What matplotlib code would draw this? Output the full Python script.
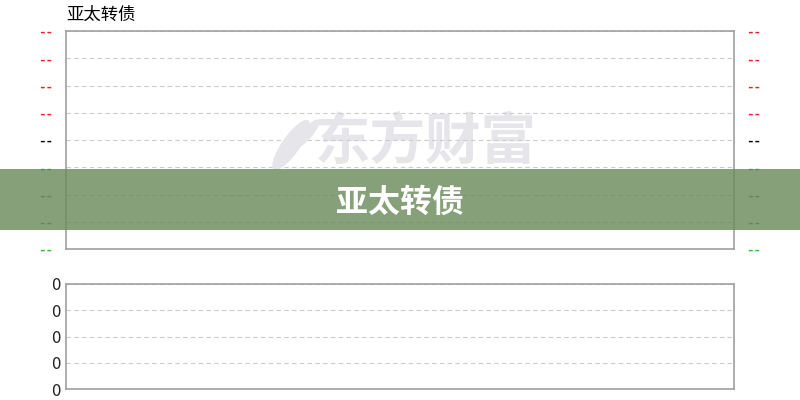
import matplotlib.pyplot as plt
import matplotlib.patches as patches

plt.rcParams['font.family'] = ['Noto Sans CJK SC', 'DejaVu Sans']

title = "亚太转债"
watermark = "东方财富"
price_labels = ["--", "--", "--", "--", "--", "--", "--", "--", "--"]  # top to bottom
price_colors = ["#e8202a"] * 4 + ["#000000"] + ["#1a8a1a"] * 3 + ["#33bb33"]
volume_labels = ["0", "0", "0", "0", "0"]

W, H = 800, 400
fig = plt.figure(figsize=(8, 4), dpi=100)

def box(x0, y0, x1, y1):
    return [x0 / W, 1 - y1 / H, (x1 - x0) / W, (y1 - y0) / H]

# upper price panel
ax1 = fig.add_axes(box(66, 31, 734, 249))
n = len(price_labels)
ax1.set_ylim(0, n - 1)
ax1.set_xlim(0, 1)
ax1.set_yticks(list(range(n - 1, -1, -1)))
ax1.set_yticklabels(price_labels)
ax1.tick_params(axis='y', length=0, pad=9, labelsize=9,
                labelleft=True, labelright=True)
for t, c in zip(ax1.yaxis.get_major_ticks(), price_colors):
    for lbl in (t.label1, t.label2):
        lbl.set_color(c)
        lbl.set_family('DejaVu Sans Mono')
        lbl.set_fontweight('bold')
ax1.set_xticks([])
ax1.grid(axis='y', color='#cccccc', linestyle=(0, (4, 3)), linewidth=0.8)
for s in ax1.spines.values():
    s.set_color('#a0a0a0')
    s.set_linewidth(1.2)
ax1.text(0.0, 1.035, title, transform=ax1.transAxes, fontsize=12.5,
         ha='left', va='bottom', color='#000000')

# watermark
ax1.text(0.538, 0.485, watermark, transform=ax1.transAxes, fontsize=40,
         fontweight='bold', color='#e6e6ea', ha='center', va='center', zorder=0)
logo = fig.add_axes(box(264, 110, 324, 174))
logo.set_xlim(0, 1)
logo.set_ylim(0, 1)
logo.set_aspect('equal')
logo.axis('off')
logo.add_patch(patches.Ellipse((0.45, 0.45), 0.3, 1.0, angle=-35,
                               facecolor='#e6e6ea', edgecolor='none'))
logo.add_patch(patches.Ellipse((0.72, 0.64), 0.18, 0.6, angle=-40,
                               facecolor='#e6e6ea', edgecolor='none'))

# lower volume panel
ax2 = fig.add_axes(box(66, 284, 734, 389))
m = len(volume_labels)
ax2.set_ylim(0, m - 1)
ax2.set_xlim(0, 1)
ax2.set_yticks(list(range(m)))
ax2.set_yticklabels(volume_labels)
ax2.tick_params(axis='y', length=0, pad=4, labelsize=12, colors='#222222')
ax2.set_xticks([])
ax2.grid(axis='y', color='#cccccc', linestyle=(0, (4, 3)), linewidth=0.8)
for s in ax2.spines.values():
    s.set_color('#a0a0a0')
    s.set_linewidth(1.2)

# banner overlay
fig.patches.append(patches.Rectangle((0, 1 - 230 / H), 1, 61 / H,
                                     transform=fig.transFigure,
                                     facecolor='#6b8c5c', alpha=0.82,
                                     edgecolor='none', zorder=10))
fig.text(0.5, 1 - 203 / H, title, fontsize=23, fontweight='bold',
         color='white', ha='center', va='center', zorder=11)

fig.savefig("out.png", dpi=100)
